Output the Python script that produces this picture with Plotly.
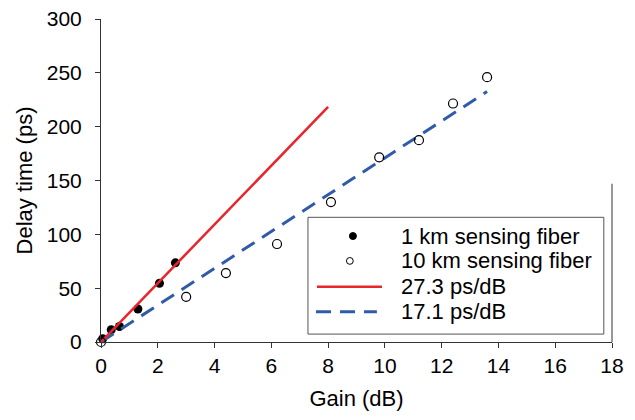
import plotly.graph_objects as go

# ---- data ----
gain_1km = [0.06, 0.36, 0.65, 1.30, 2.06, 2.62]
delay_1km = [3, 11.4, 14.4, 30.7, 54.6, 73.5]

gain_10km = [0.0, 3.0, 4.4, 6.2, 8.1, 9.8, 11.2, 12.4, 13.6]
delay_10km = [0.0, 42, 64, 91, 130, 171.5, 187.5, 221.5, 246]

fit_1km_x = [0, 8.0]
fit_1km_y = [0, 218.4]
fit_10km_x = [0, 13.6]
fit_10km_y = [0, 232.6]

names = ["1 km sensing fiber", "10 km sensing fiber", "27.3 ps/dB", "17.1 ps/dB"]
x_ticks = [0, 2, 4, 6, 8, 10, 12, 14, 16, 18]
y_ticks = [0, 50, 100, 150, 200, 250, 300]

RED = "#e8252a"
BLUE = "#2f5ba8"
AX = "#333333"
FONT = "Liberation Sans, Arial, sans-serif"

fig = go.Figure()
fig.add_trace(go.Scatter(x=gain_1km, y=delay_1km, mode="markers", name=names[0],
                         marker=dict(symbol="circle", size=9, color="black"),
                         showlegend=False, cliponaxis=False))
fig.add_trace(go.Scatter(x=fit_10km_x, y=fit_10km_y, mode="lines", name=names[3],
                         line=dict(color=BLUE, width=3, dash="15px,9px"), showlegend=False))
fig.add_trace(go.Scatter(x=fit_1km_x, y=fit_1km_y, mode="lines", name=names[2],
                         line=dict(color=RED, width=2.5), showlegend=False))
fig.add_trace(go.Scatter(x=gain_10km, y=delay_10km, mode="markers", name=names[1],
                         marker=dict(symbol="circle-open", size=9, color="black", line=dict(width=1.2)),
                         showlegend=False, cliponaxis=False))

# ---- manual legend (box, symbols, text) in paper coordinates ----
lx0, lx1, ly0, ly1 = 0.405, 0.984, 0.0245, 0.386
rows = [0.328, 0.251, 0.171, 0.094]
sym_x = 0.493
line_x0, line_x1 = 0.4227, 0.5499
text_x = 0.583

shapes = [
    dict(type="rect", xref="paper", yref="paper", x0=lx0, x1=lx1, y0=ly0, y1=ly1,
         line=dict(color="#555555", width=1), fillcolor="white", layer="above"),
    dict(type="circle", xref="paper", yref="paper", xsizemode="pixel", ysizemode="pixel",
         xanchor=sym_x, yanchor=rows[0], x0=-3.5, x1=3.5, y0=-3.5, y1=3.5,
         fillcolor="black", line=dict(color="black", width=1), layer="above"),
    dict(type="circle", xref="paper", yref="paper", xsizemode="pixel", ysizemode="pixel",
         xanchor=sym_x - 0.006, yanchor=rows[1], x0=-3.4, x1=3.4, y0=-3.4, y1=3.4,
         fillcolor="white", line=dict(color="black", width=1), layer="above"),
    dict(type="line", xref="paper", yref="paper", x0=line_x0, x1=line_x1, y0=rows[2], y1=rows[2],
         line=dict(color=RED, width=2.5), layer="above"),
    dict(type="line", xref="paper", yref="paper", x0=line_x0 - 0.002, x1=line_x1 - 0.01, y0=rows[3], y1=rows[3],
         line=dict(color=BLUE, width=3, dash="15px,9px"), layer="above"),
    # partial right frame line
    dict(type="line", xref="paper", yref="paper", x0=1, x1=1, y0=0, y1=0.49,
         line=dict(color=AX, width=1), layer="above"),
]
annotations = [
    dict(xref="paper", yref="paper", x=text_x, y=rows[i], text=names[i], showarrow=False,
         xanchor="left", yanchor="middle", font=dict(size=22, color="black", family=FONT))
    for i in range(4)
]

# page body has an 8px margin, so the figure is sized to fit the 635x420 window
fig.update_layout(
    width=627, height=412,
    margin=dict(l=93, r=23, t=11, b=78, pad=0),
    paper_bgcolor="white", plot_bgcolor="white",
    font=dict(family=FONT, size=21, color="black"),
    shapes=shapes, annotations=annotations,
    showlegend=False,
)
fig.update_xaxes(range=[0, 18], tickvals=x_ticks, ticktext=[str(v) for v in x_ticks],
                 automargin=False, ticklabeloverflow="allow",
                 showgrid=False, zeroline=False, showline=True, linecolor=AX, linewidth=1,
                 ticks="outside", ticklen=5, tickcolor=AX, tickfont=dict(size=21),
                 title=dict(text="Gain (dB)", font=dict(size=22), standoff=14))
fig.update_yaxes(range=[0, 300], tickvals=y_ticks, ticktext=[str(v) for v in y_ticks],
                 automargin=False, ticklabeloverflow="allow",
                 showgrid=False, zeroline=False, showline=True, linecolor=AX, linewidth=1,
                 ticks="outside", ticklen=5, tickcolor=AX, tickfont=dict(size=21),
                 ticklabelstandoff=9,
                 title=dict(text="Delay time (ps)", font=dict(size=22), standoff=8))

fig.write_html("out.html")
